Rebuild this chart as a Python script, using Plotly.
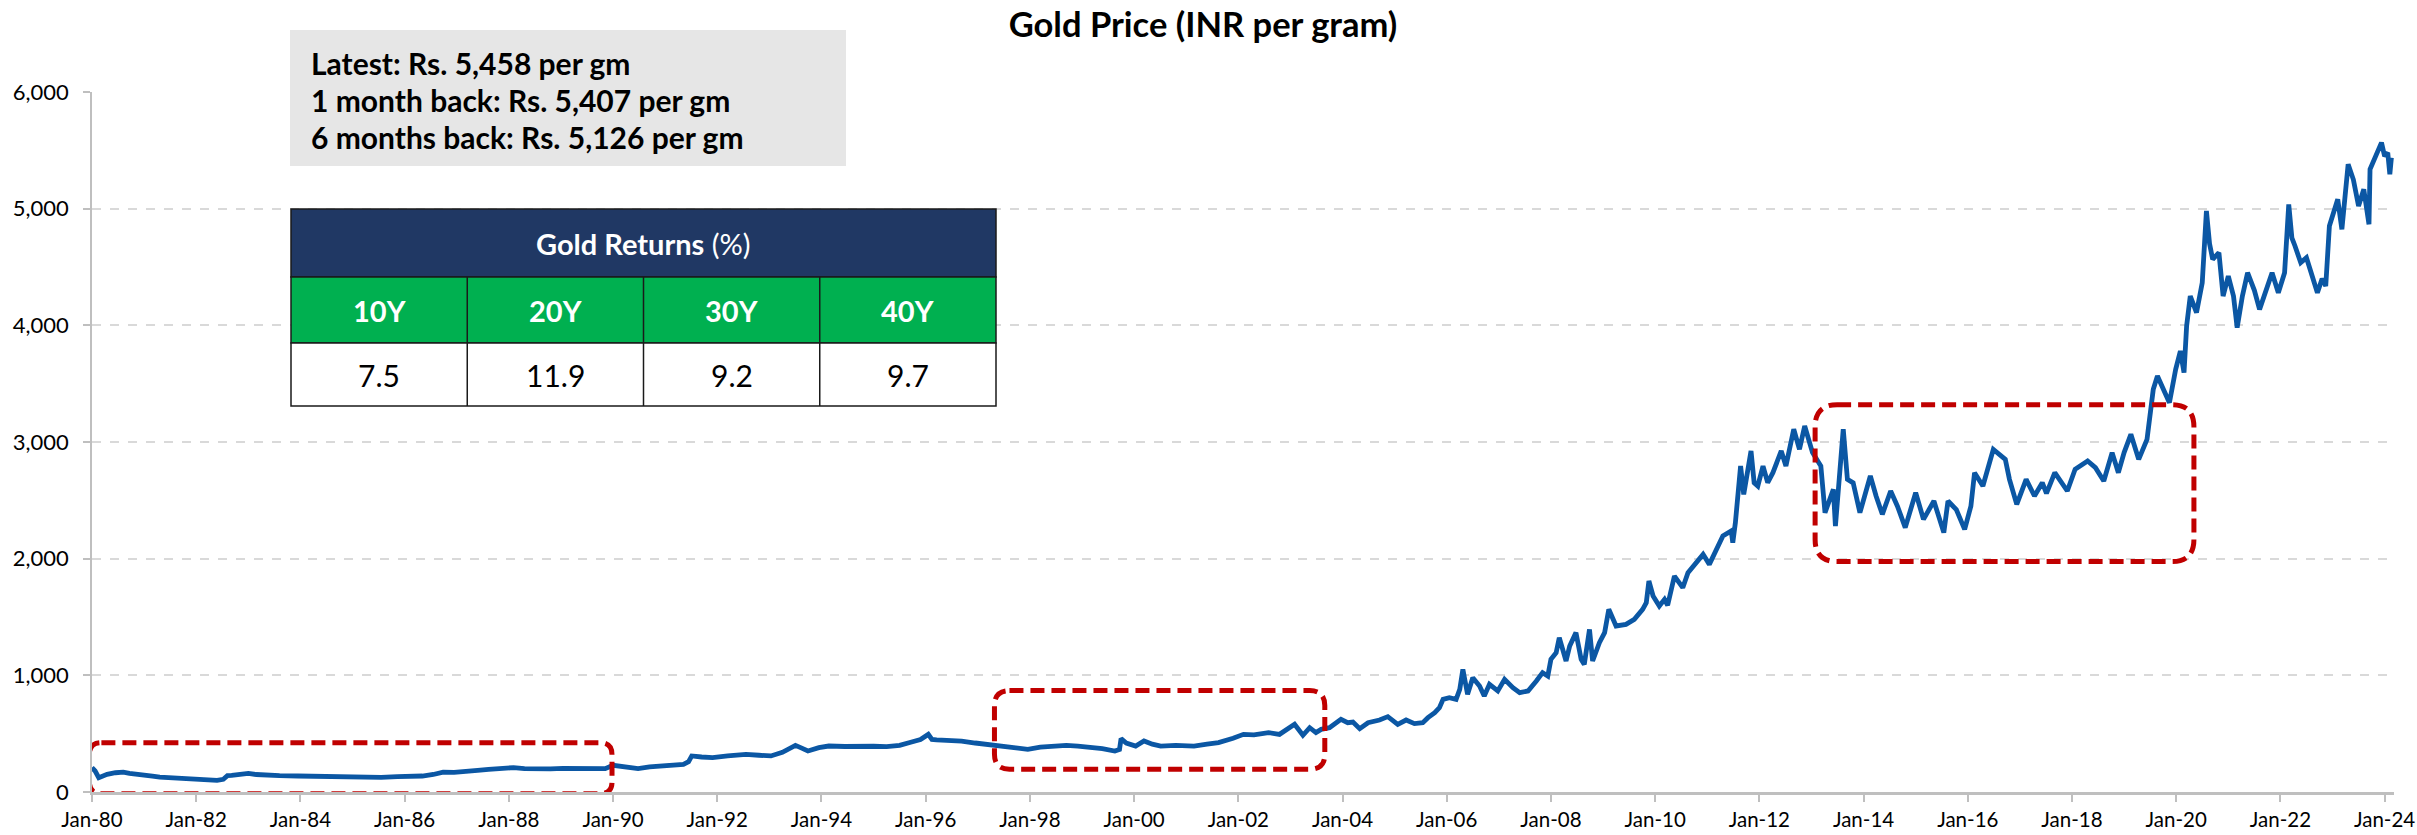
import plotly.graph_objects as go

# ---------------- data ----------------
years = [
    1980.00, 1980.06, 1980.13, 1980.22, 1980.29, 1980.45, 1980.60, 1980.72, 1980.84, 1981.00,
    1981.16, 1981.30, 1981.48, 1981.65, 1981.88, 1982.05, 1982.28, 1982.40, 1982.52, 1982.60,
    1982.68, 1982.85, 1983.00, 1983.15, 1983.31, 1983.60, 1983.95, 1984.25, 1984.59, 1984.90,
    1985.22, 1985.55, 1985.86, 1986.10, 1986.34, 1986.55, 1986.74, 1986.95, 1987.13, 1987.40,
    1987.61, 1987.85, 1988.09, 1988.30, 1988.57, 1988.80, 1989.04, 1989.35, 1989.68, 1989.85,
    1990.00, 1990.20, 1990.48, 1990.70, 1990.96, 1991.20, 1991.35, 1991.45, 1991.51, 1991.70,
    1991.91, 1992.20, 1992.55, 1992.80, 1993.03, 1993.25, 1993.50, 1993.60, 1993.74, 1993.95,
    1994.14, 1994.45, 1994.78, 1995.00, 1995.25, 1995.50, 1995.73, 1995.90, 1996.05, 1996.12,
    1996.21, 1996.45, 1996.69, 1996.95, 1997.17, 1997.35, 1997.56, 1997.75, 1997.96, 1998.20,
    1998.44, 1998.70, 1998.92, 1999.15, 1999.39, 1999.63, 1999.72, 1999.75, 1999.85, 2000.03,
    2000.19, 2000.35, 2000.51, 2000.80, 2001.15, 2001.40, 2001.62, 2001.90, 2002.10, 2002.30,
    2002.58, 2002.79, 2003.08, 2003.24, 2003.37, 2003.49, 2003.59, 2003.75, 2003.97, 2004.10,
    2004.20, 2004.33, 2004.49, 2004.71, 2004.87, 2005.06, 2005.22, 2005.38, 2005.54, 2005.64,
    2005.77, 2005.86, 2005.93, 2006.05, 2006.18, 2006.25, 2006.31, 2006.40, 2006.50, 2006.63,
    2006.72, 2006.82, 2006.98, 2007.11, 2007.27, 2007.40, 2007.56, 2007.72, 2007.84, 2007.94,
    2008.00, 2008.10, 2008.16, 2008.29, 2008.36, 2008.48, 2008.58, 2008.64, 2008.74, 2008.80,
    2008.93, 2009.03, 2009.11, 2009.25, 2009.44, 2009.60, 2009.76, 2009.83, 2009.88, 2009.96,
    2010.08, 2010.18, 2010.24, 2010.37, 2010.53, 2010.63, 2010.79, 2010.92, 2011.04, 2011.17,
    2011.30, 2011.46, 2011.49, 2011.54, 2011.59, 2011.64, 2011.70, 2011.75, 2011.84, 2011.90,
    2011.97, 2012.07, 2012.16, 2012.26, 2012.42, 2012.51, 2012.66, 2012.77, 2012.87, 2013.02,
    2013.18, 2013.26, 2013.42, 2013.46, 2013.61, 2013.69, 2013.80, 2013.93, 2014.13, 2014.24,
    2014.36, 2014.52, 2014.65, 2014.80, 2015.00, 2015.15, 2015.35, 2015.54, 2015.62, 2015.78,
    2015.94, 2016.06, 2016.13, 2016.29, 2016.49, 2016.72, 2016.80, 2016.94, 2017.12, 2017.28,
    2017.43, 2017.51, 2017.67, 2017.91, 2018.06, 2018.30, 2018.45, 2018.61, 2018.77, 2018.89,
    2019.00, 2019.13, 2019.28, 2019.44, 2019.56, 2019.64, 2019.75, 2019.87, 2019.99, 2020.08,
    2020.15, 2020.20, 2020.27, 2020.39, 2020.50, 2020.58, 2020.64, 2020.70, 2020.82, 2020.90,
    2021.00, 2021.10, 2021.17, 2021.27, 2021.37, 2021.50, 2021.60, 2021.72, 2021.84, 2021.96,
    2022.08, 2022.16, 2022.22, 2022.28, 2022.39, 2022.50, 2022.60, 2022.71, 2022.80, 2022.87,
    2022.94, 2023.10, 2023.18, 2023.30, 2023.40, 2023.50, 2023.60, 2023.70, 2023.72, 2023.85,
    2023.94, 2024.00, 2024.06, 2024.10, 2024.13,
]
prices = [
    209, 180, 123, 140, 151, 165, 171, 160, 151, 145,
    137, 128, 123, 120, 114, 105, 94, 100, 109, 140,
    143, 150, 160, 150, 143, 140, 137, 135, 131, 128,
    123, 125, 131, 133, 137, 150, 171, 168, 171, 185,
    194, 200, 209, 200, 194, 198, 203, 198, 194, 200,
    229, 215, 200, 215, 223, 230, 237, 260, 309, 300,
    294, 310, 323, 315, 309, 340, 400, 380, 351, 380,
    394, 390, 394, 392, 389, 400, 429, 450, 494, 450,
    446, 445, 437, 420, 409, 395, 380, 372, 366, 385,
    394, 400, 394, 385, 371, 351, 365, 457, 420, 394,
    437, 410, 394, 400, 394, 410, 423, 460, 494, 490,
    509, 494, 580, 486, 551, 509, 537, 551, 623, 594,
    600, 543, 594, 617, 646, 580, 617, 586, 594, 637,
    680, 723, 794, 809, 794, 880, 1051, 837, 980, 909,
    823, 923, 866, 966, 894, 851, 866, 951, 1023, 994,
    1137, 1194, 1323, 1123, 1251, 1366, 1137, 1094, 1394, 1123,
    1280, 1366, 1566, 1423, 1437, 1480, 1566, 1623, 1809, 1680,
    1594, 1651, 1600, 1851, 1751, 1880, 1966, 2037, 1951, 2080,
    2194, 2237, 2137, 2309, 2594, 2794, 2551, 2680, 2923, 2651,
    2623, 2794, 2651, 2737, 2923, 2794, 3109, 2937, 3137, 2909,
    2794, 2394, 2594, 2280, 3109, 2680, 2650, 2394, 2709, 2537,
    2380, 2580, 2450, 2266, 2566, 2337, 2494, 2223, 2494, 2420,
    2251, 2451, 2737, 2623, 2937, 2851, 2680, 2466, 2680, 2537,
    2651, 2560, 2737, 2580, 2766, 2837, 2780, 2666, 2909, 2737,
    2909, 3066, 2851, 3023, 3451, 3566, 3450, 3337, 3623, 3780,
    3594, 3994, 4251, 4109, 4366, 4980, 4700, 4566, 4623, 4251,
    4423, 4250, 3980, 4250, 4451, 4300, 4137, 4300, 4451, 4280,
    4451, 5037, 4750, 4680, 4537, 4580, 4420, 4280, 4400, 4337,
    4851, 5080, 4823, 5380, 5250, 5023, 5166, 4866, 5337, 5480,
    5566, 5450, 5480, 5294, 5437,
]

tick_years = list(range(1980, 2025, 2))
tick_labels = ["Jan-%02d" % (y % 100) for y in tick_years]
y_ticks = [0, 1000, 2000, 3000, 4000, 5000, 6000]

summary_labels = ["Latest", "1 month back", "6 months back"]
summary_values = [5458, 5407, 5126]

return_periods = ["10Y", "20Y", "30Y", "40Y"]
return_values = [7.5, 11.9, 9.2, 9.7]

# highlighted periods: (start year, end year, low price, high price)
hl_x0 = [1979.95, 1997.32, 2013.07]
hl_x1 = [1989.98, 2003.66, 2020.34]
hl_y0 = [-15, 195, 1975]
hl_y1 = [423, 869, 3320]

# ---------------- layout geometry ----------------
W, H = 2417, 835
ML, MR, MT, MB = 92, 23, 92, 43
PW, PH = W - ML - MR, H - MT - MB
X_RANGE = [1980, 2024.18]
Y_RANGE = [0, 6000]

FONT = "Lato, 'Open Sans', sans-serif"
BLUE = "#0b57a4"
RED = "#c00000"


def px(xp):
    return (xp - ML) / PW


def py(yp):
    return (H - MB - yp) / PH


fig = go.Figure()
fig.add_trace(go.Scatter(
    x=years, y=prices, mode="lines",
    line=dict(color=BLUE, width=4.8),
    showlegend=False, hoverinfo="skip",
))

shapes = []
annotations = []

# rounded dashed highlight boxes
xs_per_px = (X_RANGE[1] - X_RANGE[0]) / PW
ys_per_px = (Y_RANGE[1] - Y_RANGE[0]) / PH
radii_px = [12, 15, 22]
for x0, x1, y0, y1, r in zip(hl_x0, hl_x1, hl_y0, hl_y1, radii_px):
    rx, ry = r * xs_per_px, r * ys_per_px
    path = (f"M {x0+rx},{y1} L {x1-rx},{y1} Q {x1},{y1} {x1},{y1-ry} "
            f"L {x1},{y0+ry} Q {x1},{y0} {x1-rx},{y0} L {x0+rx},{y0} "
            f"Q {x0},{y0} {x0},{y0+ry} L {x0},{y1-ry} Q {x0},{y1} {x0+rx},{y1} Z")
    shapes.append(dict(type="path", path=path, xref="x", yref="y",
                       line=dict(color=RED, width=5, dash="14px,7px"),
                       layer="above"))

# grey summary box
shapes.append(dict(type="rect", xref="paper", yref="paper",
                   x0=px(290), x1=px(846), y0=py(166), y1=py(30),
                   fillcolor="#e6e6e6", line=dict(width=0), layer="above"))
line_y = [63, 100, 137]
for lab, val, yy in zip(summary_labels, summary_values, line_y):
    annotations.append(dict(
        xref="paper", yref="paper", x=px(309), y=py(yy),
        xanchor="left", yanchor="middle", showarrow=False,
        text=f"<b>{lab}: Rs. {val:,} per gm</b>",
        font=dict(family=FONT, size=30, color="#000000")))

# returns table
TX0, TX1 = 291, 996
R0, R1, R2, R3 = 209, 277, 343, 406
shapes.append(dict(type="rect", xref="paper", yref="paper",
                   x0=px(TX0), x1=px(TX1), y0=py(R1), y1=py(R0),
                   fillcolor="#203864", line=dict(color="#1a1a1a", width=1.5), layer="above"))
shapes.append(dict(type="rect", xref="paper", yref="paper",
                   x0=px(TX0), x1=px(TX1), y0=py(R2), y1=py(R1),
                   fillcolor="#00b050", line=dict(color="#1a1a1a", width=1.5), layer="above"))
shapes.append(dict(type="rect", xref="paper", yref="paper",
                   x0=px(TX0), x1=px(TX1), y0=py(R3), y1=py(R2),
                   fillcolor="#ffffff", line=dict(color="#1a1a1a", width=1.5), layer="above"))
ncol = len(return_periods)
cw = (TX1 - TX0) / ncol
for i in range(1, ncol):
    xx = TX0 + i * cw
    shapes.append(dict(type="line", xref="paper", yref="paper",
                       x0=px(xx), x1=px(xx), y0=py(R3), y1=py(R1),
                       line=dict(color="#1a1a1a", width=1.5), layer="above"))
annotations.append(dict(
    xref="paper", yref="paper", x=px((TX0 + TX1) / 2), y=py((R0 + R1) / 2),
    xanchor="center", yanchor="middle", showarrow=False,
    text="<b>Gold Returns</b> (%)",
    font=dict(family=FONT, size=29, color="#ffffff")))
for i, (per, val) in enumerate(zip(return_periods, return_values)):
    cx = TX0 + (i + 0.5) * cw
    annotations.append(dict(
        xref="paper", yref="paper", x=px(cx), y=py((R1 + R2) / 2),
        xanchor="center", yanchor="middle", showarrow=False,
        text=f"<b>{per}</b>", font=dict(family=FONT, size=29, color="#ffffff")))
    annotations.append(dict(
        xref="paper", yref="paper", x=px(cx), y=py((R2 + R3) / 2),
        xanchor="center", yanchor="middle", showarrow=False,
        text=f"{val}", font=dict(family=FONT, size=30, color="#000000")))

fig.update_layout(
    width=W, height=H,
    margin=dict(l=ML, r=MR, t=MT, b=MB, pad=0, autoexpand=False),
    paper_bgcolor="#ffffff", plot_bgcolor="#ffffff",
    title=dict(text="<b>Gold Price (INR per gram)</b>", x=1203 / W, xanchor="center",
               y=1 - 25 / H, yanchor="middle", yref="container", automargin=False,
               font=dict(family=FONT, size=34.5, color="#000000")),
    font=dict(family=FONT, size=21, color="#000000"),
    shapes=shapes, annotations=annotations,
    showlegend=False,
)
fig.update_xaxes(
    range=X_RANGE, tickmode="array", tickvals=tick_years, ticktext=tick_labels,
    showgrid=False, zeroline=False, automargin=False,
    showline=True, linecolor="#bfbfbf", linewidth=2.5,
    ticks="outside", ticklen=7, tickcolor="#bfbfbf", tickwidth=1.5,
    tickfont=dict(family=FONT, size=20.5, color="#000000"),
    ticklabelstandoff=1, ticklabeloverflow="allow",
)
fig.update_yaxes(
    range=Y_RANGE, tickmode="array", tickvals=y_ticks, tickformat=",",
    showgrid=True, gridcolor="#d9d9d9", gridwidth=1.5, griddash="dash",
    zeroline=False, automargin=False,
    showline=True, linecolor="#bfbfbf", linewidth=1.5,
    ticks="outside", ticklen=7, tickcolor="#bfbfbf", tickwidth=1.5,
    tickfont=dict(family=FONT, size=22, color="#000000"),
    ticklabelstandoff=10,
)

fig.write_html(
    "out.html",
    config={"displayModeBar": False},
    post_script="document.body.style.margin='0';document.body.style.padding='0';",
)
